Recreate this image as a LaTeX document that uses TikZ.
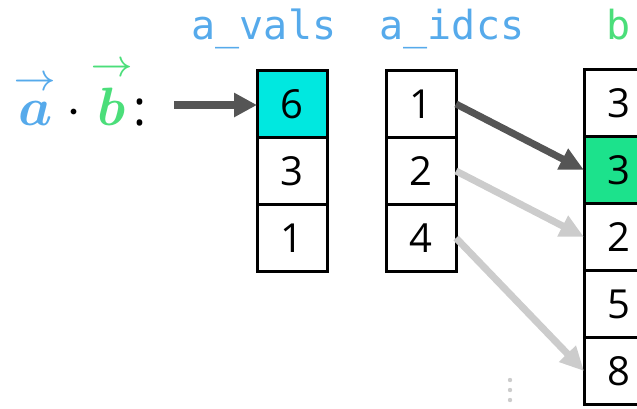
\documentclass[tikz,border=0pt]{standalone}
\usepackage{amsmath}
\usepackage{bm}
\usepackage{fontspec}
\setmainfont{Open Sans}
\setmonofont{DejaVu Sans Mono}
\usepackage{tikz}
\usetikzlibrary{arrows.meta,positioning}
\definecolor{lblblue}{RGB}{86,170,235}
\definecolor{lblgreen}{RGB}{75,222,122}
\definecolor{hlcyan}{RGB}{0,232,224}
\definecolor{hlgreen}{RGB}{28,226,140}
\definecolor{ptrdark}{RGB}{85,85,85}
\definecolor{ptrlight}{RGB}{204,204,204}
\newcommand{\vecarr}[1]{\overset{\rightarrow}{\bm{#1}}}
\tikzset{
  cellbox/.style={draw=black, line width=3pt, fill=white, minimum width=70pt, minimum height=67pt, inner sep=0pt, outer sep=0pt, font=\fontsize{40}{44}\selectfont},
  arrlabel/.style={anchor=base, inner sep=0pt, font=\fontsize{40}{44}\selectfont\ttfamily},
  bigarr/.style={-{Triangle[length=23pt,width=23pt]}, line width=8pt, draw=ptrdark},
  ptrarr/.style={-{Triangle[length=24pt,width=22pt]}, line width=7pt, draw=ptrdark},
  ptrarrfaint/.style={-{Triangle[length=24pt,width=22pt]}, line width=7pt, draw=ptrlight}
}
\begin{document}
\begin{tikzpicture}[x=1pt, y=-1pt, node distance=0pt]
  \useasboundingbox (0,0) rectangle (637,408);
  % column labels
  \node[arrlabel, text=lblblue] (valslbl) at (264,39) {a\_vals};
  \node[arrlabel, text=lblblue] (idcslbl) at (452,39) {a\_idcs};
  \node[arrlabel, text=lblgreen] (blbl) at (619,39) {b};
  % dot product label
  \node[anchor=base, inner sep=0pt, scale=5.4] (dotprod) at (80,125)
    {$\textcolor{lblblue}{\vecarr{a}}\mkern3mu{\cdot}\mkern3mu\textcolor{lblgreen}{\vecarr{b}}$\small:};
  % a_vals
  \node[cellbox, fill=hlcyan] (v1) at (292,104) {6};
  \node[cellbox, below=of v1] (v2) {3};
  \node[cellbox, below=of v2] (v3) {1};
  % a_idcs
  \node[cellbox] (i1) at (421,104) {1};
  \node[cellbox, below=of i1] (i2) {2};
  \node[cellbox, below=of i2] (i3) {4};
  % b
  \node[cellbox] (b1) at (619,103) {3};
  \node[cellbox, fill=hlgreen, below=of b1] (b2) {3};
  \node[cellbox, below=of b2] (b3) {2};
  \node[cellbox, below=of b3] (b4) {5};
  \node[cellbox, below=of b4] (b5) {8};
  % pointers
  \coordinate (src) at (174,105);
  \draw[bigarr] (src) -- (src -| v1.west);
  \draw[ptrarrfaint] (i2.east) -- (b3.west);
  \draw[ptrarrfaint] (i3.east) -- (b5.west);
  \draw[ptrarr] (i1.east) -- (b2.west);
  % more entries
  \foreach \y in {380,390,400}
    \fill[ptrlight] (510,\y) circle (2.2pt);
\end{tikzpicture}
\end{document}
